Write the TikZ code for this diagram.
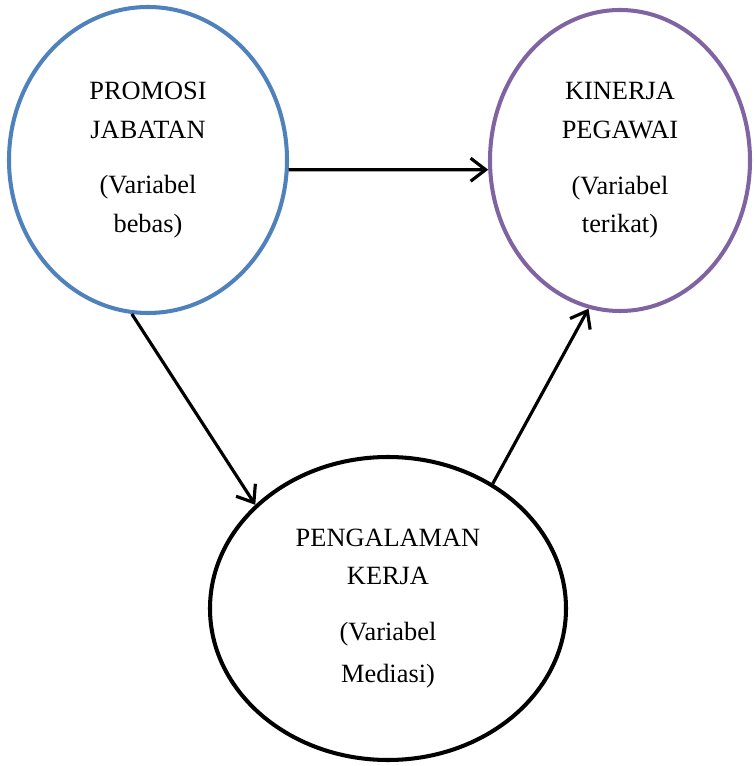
\documentclass[tikz,border=0pt]{standalone}
\usepackage{fontspec}
\setmainfont{Liberation Serif}
\usepackage{tikz}
\usetikzlibrary{arrows.meta,shapes,positioning}
\usepackage{xcolor}
\definecolor{ofblue}{RGB}{79,129,189}
\definecolor{ofpurple}{RGB}{128,100,162}
\tikzstyle{variabel} = [ellipse, draw=black, line width=2.3pt, align=center, inner sep=0pt, font=\fontsize{15}{22}\selectfont]
\tikzstyle{arrow} = [line width=1.8pt, -{Straight Barb[length=3mm,width=4.6mm]}]

\begin{document}
\begin{tikzpicture}
\useasboundingbox (0,0) rectangle (15.12,15.32);
\node[variabel, draw=ofblue, minimum width=5.56cm, minimum height=6.12cm] (promosi) at (2.96,12.12) {PROMOSI\\JABATAN\\[0.34cm](Variabel\\bebas)};
\node[variabel, draw=ofpurple, minimum width=5.2cm, minimum height=6.02cm] (kinerja) at (12.4,12.11) {KINERJA\\PEGAWAI\\[0.34cm](Variabel\\terikat)};
\node[variabel, minimum width=7.12cm, minimum height=6.06cm] (pengalaman) at (7.76,3.15) {PENGALAMAN\\KERJA\\[0.34cm](Variabel\\[2pt]Mediasi)};

\draw[arrow] (promosi.-4) -- (kinerja.184);
\draw[arrow] (promosi.264) -- (pengalaman.142);
\draw[arrow] (pengalaman.50) -- (kinerja.258);
\end{tikzpicture}
\end{document}
